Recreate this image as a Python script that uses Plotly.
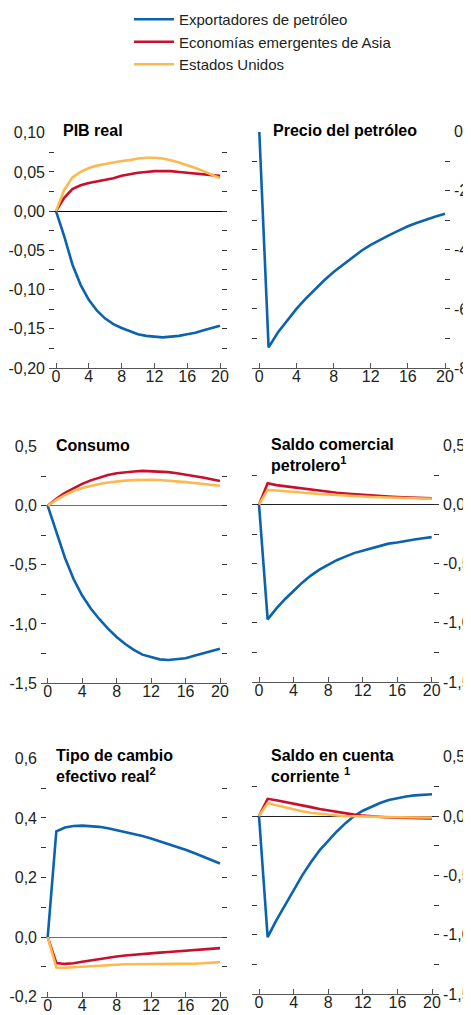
import plotly.graph_objects as go

# page body has an 8px default margin: figure is sized to fill the rest of the window
OFF = 8
W, H = 471 - OFF, 1015 - OFF


def px_x(v):
    return (v - OFF) / W


def px_y(v):
    return 1 - (v - OFF) / H


quarters = list(range(21))
series_names = ["Exportadores de petróleo", "Economías emergentes de Asia", "Estados Unidos"]
colors = ["#0B62AE", "#C8102E", "#FDB94E"]

# PIB real
pib_exp = [0, -0.032, -0.068, -0.094, -0.113, -0.127, -0.137, -0.144, -0.149, -0.153, -0.157,
           -0.159, -0.160, -0.161, -0.160, -0.159, -0.157, -0.155, -0.152, -0.149, -0.146]
pib_asia = [0, 0.017, 0.028, 0.033, 0.036, 0.038, 0.040, 0.042, 0.045, 0.047, 0.049,
            0.050, 0.051, 0.051, 0.051, 0.050, 0.049, 0.048, 0.047, 0.046, 0.045]
pib_us = [0, 0.027, 0.043, 0.050, 0.055, 0.058, 0.060, 0.062, 0.064, 0.065, 0.067,
          0.068, 0.068, 0.067, 0.065, 0.062, 0.059, 0.055, 0.051, 0.047, 0.042]

# Precio del petróleo
oil_price = [0, -7.3, -6.8, -6.38, -6.0, -5.65, -5.33, -5.03, -4.75, -4.5, -4.25,
             -4.03, -3.83, -3.66, -3.5, -3.35, -3.2, -3.08, -2.97, -2.87, -2.78]

# Consumo
cons_exp = [0, -0.22, -0.44, -0.62, -0.76, -0.87, -0.96, -1.04, -1.11, -1.17, -1.22,
            -1.26, -1.28, -1.30, -1.305, -1.30, -1.29, -1.27, -1.25, -1.23, -1.21]
cons_asia = [0, 0.06, 0.11, 0.15, 0.185, 0.215, 0.24, 0.26, 0.275, 0.285, 0.29,
             0.295, 0.293, 0.29, 0.285, 0.275, 0.265, 0.252, 0.24, 0.225, 0.21]
cons_us = [0, 0.05, 0.09, 0.125, 0.15, 0.17, 0.185, 0.197, 0.207, 0.213, 0.217,
           0.22, 0.22, 0.218, 0.214, 0.208, 0.2, 0.193, 0.185, 0.177, 0.17]

# Saldo comercial petrolero
tb_exp = [0, -0.97, -0.88, -0.80, -0.73, -0.66, -0.60, -0.55, -0.51, -0.47, -0.44,
          -0.41, -0.39, -0.37, -0.35, -0.33, -0.32, -0.305, -0.295, -0.285, -0.275]
tb_asia = [0, 0.18, 0.165, 0.155, 0.145, 0.135, 0.125, 0.117, 0.108, 0.1, 0.094,
           0.088, 0.082, 0.077, 0.073, 0.069, 0.065, 0.062, 0.059, 0.056, 0.053]
tb_us = [0, 0.125, 0.12, 0.113, 0.107, 0.1, 0.095, 0.09, 0.085, 0.08, 0.076,
         0.072, 0.068, 0.065, 0.062, 0.06, 0.058, 0.056, 0.054, 0.052, 0.05]

# Tipo de cambio efectivo real
rer_exp = [0, 0.355, 0.368, 0.373, 0.374, 0.373, 0.37, 0.365, 0.359, 0.353, 0.346,
           0.339, 0.331, 0.322, 0.313, 0.303, 0.293, 0.282, 0.270, 0.259, 0.247]
rer_asia = [0, -0.087, -0.09, -0.088, -0.083, -0.078, -0.073, -0.069, -0.065, -0.062, -0.059,
            -0.057, -0.054, -0.052, -0.05, -0.048, -0.046, -0.044, -0.042, -0.04, -0.037]
rer_us = [0, -0.102, -0.103, -0.102, -0.1, -0.098, -0.096, -0.094, -0.092, -0.091, -0.091,
          -0.091, -0.091, -0.091, -0.091, -0.09, -0.09, -0.089, -0.088, -0.086, -0.084]

# Saldo en cuenta corriente
ca_exp = [0, -1.02, -0.88, -0.75, -0.62, -0.5, -0.39, -0.29, -0.21, -0.13, -0.06,
          0.0, 0.045, 0.08, 0.11, 0.135, 0.152, 0.165, 0.174, 0.18, 0.183]
ca_asia = [0, 0.145, 0.133, 0.12, 0.105, 0.09, 0.075, 0.06, 0.047, 0.035, 0.024,
           0.012, 0.003, -0.004, -0.009, -0.012, -0.015, -0.017, -0.018, -0.019, -0.02]
ca_us = [0, 0.107, 0.09, 0.072, 0.055, 0.04, 0.028, 0.018, 0.01, 0.004, 0.0,
         -0.003, -0.005, -0.007, -0.008, -0.009, -0.01, -0.01, -0.011, -0.011, -0.012]

x_tickvals = [0, 4, 8, 12, 16, 20]

FONT = "Liberation Sans, Arial, sans-serif"
TXT = "#231F20"
TICK_SIZE = 16

panels = [
    dict(a=56, b=220, L=49, R=227, top=132.7, bot=368, yr=(-0.2, 0.1), step=0.025, lab=0.05, dec=2, side="left",
         zc="#000000", zl=True,
         series=[pib_exp, pib_asia, pib_us], title="PIB real", tx=61, ty=130.5),
    dict(a=259.3, b=445, L=252, R=450, top=131.7, bot=368, yr=(-8, 0), step=1, lab=2, dec=0, side="right",
         zc="#000000", zl=False,
         series=[oil_price], title="Precio del petróleo", tx=271, ty=130.5),
    dict(a=47.7, b=220, L=41, R=227, top=446.7, bot=683, yr=(-1.5, 0.5), step=0.25, lab=0.5, dec=1, side="left",
         zc="#6D6E70", zl=True,
         series=[cons_exp, cons_asia, cons_us], title="Consumo", tx=54, ty=445),
    dict(a=259, b=431.7, L=252, R=439, top=445.5, bot=682, yr=(-1.5, 0.5), step=0.25, lab=0.5, dec=1, side="right",
         zc="#231F20", zl=True,
         series=[tb_exp, tb_asia, tb_us], title="Saldo comercial<br>petrolero<sup>1</sup>", tx=269, ty=455),
    dict(a=47.7, b=220, L=41, R=227, top=758.3, bot=996.7, yr=(-0.2, 0.6), step=0.1, lab=0.2, dec=1, side="left",
         zc="#6D6E70", zl=True,
         series=[rer_exp, rer_asia, rer_us], title="Tipo de cambio<br>efectivo real<sup>2</sup>", tx=54, ty=766),
    dict(a=259, b=432, L=252, R=439, top=756.7, bot=994, yr=(-1.5, 0.5), step=0.25, lab=0.5, dec=1, side="right",
         zc="#231F20", zl=True,
         series=[ca_exp, ca_asia, ca_us], title="Saldo en cuenta<br>corriente <sup>1</sup>", tx=269, ty=766),
]

fig = go.Figure()
annotations = []

for i, p in enumerate(panels):
    n = i + 1
    xa = "x" if n == 1 else f"x{n}"
    ya = "y" if n == 1 else f"y{n}"
    k = (p["b"] - p["a"]) / 20.0
    xr = [(p["L"] - p["a"]) / k, 20 + (p["R"] - p["b"]) / k]
    for j, s in enumerate(p["series"]):
        fig.add_trace(go.Scatter(
            x=quarters, y=s, mode="lines", xaxis=xa, yaxis=ya,
            line=dict(color=colors[j], width=2.6),
            name=series_names[j], showlegend=(n == 1), legendrank=j + 1,
        ))
    lo, hi = p["yr"]
    nsteps = int(round((hi - lo) / p["step"]))
    tv, tt = [], []
    for t in range(nsteps + 1):
        v = round(lo + t * p["step"], 6)
        tv.append(v)
        ratio = v / p["lab"]
        if abs(ratio - round(ratio)) < 1e-6:
            s = f"{v:.{p['dec']}f}".replace(".", ",")
            if s.startswith("-") and float(v) == 0:
                s = s[1:]
            tt.append(s)
        else:
            tt.append("")
    xkey = "xaxis" if n == 1 else f"xaxis{n}"
    ykey = "yaxis" if n == 1 else f"yaxis{n}"
    fig.layout[xkey] = dict(
        domain=[px_x(p["L"]), px_x(p["R"])], range=xr, anchor=ya,
        tickvals=x_tickvals, ticktext=[str(v) for v in x_tickvals],
        ticks="inside", ticklen=5, tickwidth=1, tickcolor="#555555",
        showline=True, linecolor="#555555", linewidth=1.3,
        showgrid=False, zeroline=False, ticklabelstandoff=-6,
        tickfont=dict(family=FONT, size=TICK_SIZE, color=TXT), fixedrange=True,
    )
    fig.layout[ykey] = dict(
        domain=[px_y(p["bot"]), px_y(p["top"])], range=[lo, hi], anchor=xa,
        side=p["side"], tickvals=tv, ticktext=tt,
        ticks="inside", ticklen=5, tickwidth=1, tickcolor="#333333", mirror="ticks",
        showline=False, showgrid=False, ticklabelstandoff=3,
        zeroline=p["zl"], zerolinecolor=p["zc"], zerolinewidth=1.2,
        tickfont=dict(family=FONT, size=TICK_SIZE, color=TXT), fixedrange=True,
    )
    annotations.append(dict(
        text=p["title"], xref="paper", yref="paper",
        x=px_x(p["tx"]), y=px_y(p["ty"]), xanchor="left", yanchor="middle",
        align="left", showarrow=False,
        font=dict(family=FONT, size=16, color="#000000", weight="bold"),
    ))

fig.update_layout(
    width=W, height=H,
    margin=dict(l=0, r=0, t=0, b=0, autoexpand=False),
    paper_bgcolor="white", plot_bgcolor="white",
    annotations=annotations,
    showlegend=True,
    legend=dict(
        x=px_x(129), y=px_y(3), xanchor="left", yanchor="top",
        font=dict(family=FONT, size=15, color=TXT),
        tracegroupgap=0, itemwidth=40, bgcolor="rgba(0,0,0,0)",
    ),
)

fig.write_html("out.html")
